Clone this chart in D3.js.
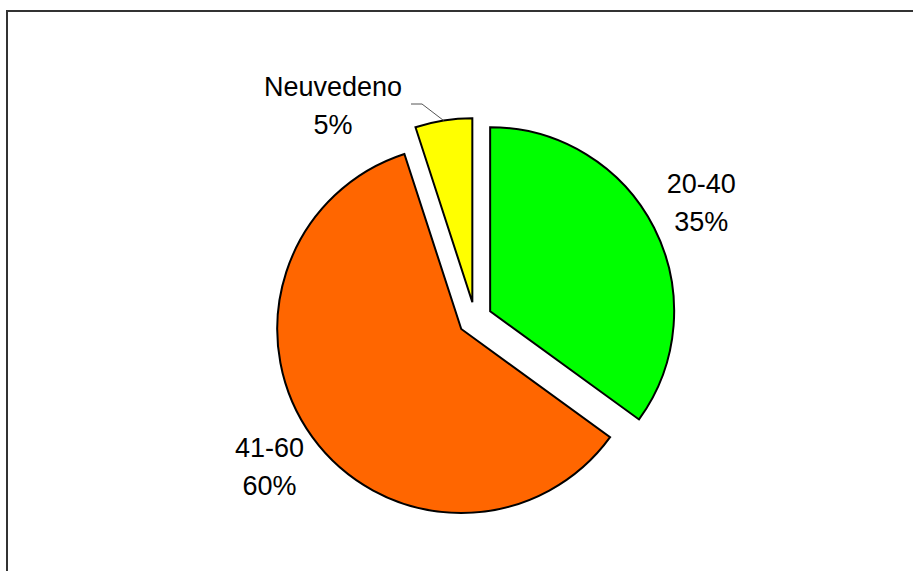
<!DOCTYPE html>
<html>
<head>
<meta charset="utf-8">
<script src="https://cdn.jsdelivr.net/npm/d3@7"></script>
<style>
  html, body { margin: 0; padding: 0; background: #fff; }
  svg { display: block; }
  text { font-family: "Liberation Sans", Arial, sans-serif; font-size: 27px; fill: #000; }
</style>
</head>
<body>
<svg id="chart" width="913" height="571"></svg>
<script>
// Age groups and their shares (percent)
const categories = ["20-40", "41-60", "Neuvedeno"];
const shares = [35, 60, 5];
const colors = ["#00ff00", "#ff6600", "#ffff00"];

const W = 913, H = 571;
const cx = 475, cy = 319;      // pie centre
const radius = 184;
const explode = 17;            // every slice pulled out from the centre
const labelRadius = 254;

const svg = d3.select("#chart");

// chart-area frame
svg.append("rect")
  .attr("x", 7).attr("y", 11)
  .attr("width", W).attr("height", H)
  .attr("fill", "none")
  .attr("stroke", "#333")
  .attr("stroke-width", 2);

const pie = d3.pie().sort(null).value(d => d.value).startAngle(0).endAngle(2 * Math.PI);
const data = categories.map((c, i) => ({ name: c, value: shares[i], color: colors[i] }));
const arcs = pie(data);
const arc = d3.arc().innerRadius(0).outerRadius(radius);
const total = d3.sum(shares);

const g = svg.append("g").attr("transform", `translate(${cx},${cy})`);

function dir(a) { return [Math.sin(a), -Math.cos(a)]; }

g.selectAll("path.slice")
  .data(arcs)
  .join("path")
  .attr("class", "slice")
  .attr("d", arc)
  .attr("transform", d => {
    const [dx, dy] = dir((d.startAngle + d.endAngle) / 2);
    return `translate(${dx * explode},${dy * explode})`;
  })
  .attr("fill", d => d.data.color)
  .attr("stroke", "#000")
  .attr("stroke-width", 2)
  .attr("stroke-linejoin", "miter");

// label block centres: small slice label is moved aside with a leader line
const labelOffsets = { "Neuvedeno": [-142, -212] };

arcs.forEach(d => {
  const mid = (d.startAngle + d.endAngle) / 2;
  const [ux, uy] = dir(mid);
  let lx, ly;
  if (labelOffsets[d.data.name]) {
    [lx, ly] = labelOffsets[d.data.name];
    // leader line from label to the slice's outer edge
    const ex = ux * (radius + explode), ey = uy * (radius + explode);
    g.append("polyline")
      .attr("points", [[lx + 78, ly - 3], [lx + 89, ly - 3], [ex, ey]].map(p => p.join(",")).join(" "))
      .attr("fill", "none")
      .attr("stroke", "#555")
      .attr("stroke-width", 1);
  } else {
    lx = ux * labelRadius;
    ly = uy * labelRadius;
  }
  const t = g.append("text").attr("text-anchor", "middle");
  t.append("tspan").attr("x", lx).attr("y", ly - 11).text(d.data.name);
  t.append("tspan").attr("x", lx).attr("y", ly + 27)
    .text(Math.round(d.data.value / total * 100) + "%");
});
</script>
</body>
</html>
